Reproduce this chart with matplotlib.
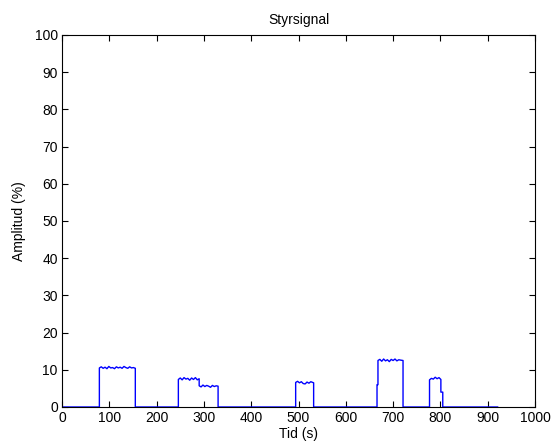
import matplotlib
matplotlib.use("Agg")
import matplotlib.pyplot as plt

# Time (s) and control signal amplitude (%)
time_s = [0, 79, 79, 83, 87, 91, 95, 99, 103, 107, 111, 115, 119, 123, 127, 131, 135, 139, 143, 147, 151, 155, 155,
          246, 246, 250, 254, 258, 262, 266, 270, 274, 278, 282, 286, 290, 290, 294, 298, 302, 306, 310, 314, 318, 322, 326, 330, 330,
          494, 494, 498, 502, 506, 510, 514, 518, 522, 526, 532, 532,
          666, 666, 668, 668, 672, 676, 680, 684, 688, 692, 696, 700, 704, 708, 712, 716, 721, 721,
          777, 777, 781, 785, 789, 793, 797, 801, 801, 805, 805, 921]
amplitude = [0, 0, 10.5, 10.8, 10.4, 10.7, 10.3, 10.9, 10.5, 10.6, 10.3, 10.8, 10.5, 10.7, 10.4, 10.9, 10.6, 10.4, 10.8, 10.5, 10.6, 10.4, 0,
             0, 7.4, 7.8, 7.3, 7.9, 7.5, 7.7, 7.2, 7.8, 7.4, 7.9, 7.3, 7.6, 5.7, 5.4, 5.9, 5.5, 5.8, 5.6, 5.3, 5.8, 5.5, 5.7, 5.6, 0,
             0, 6.6, 6.9, 6.5, 6.8, 6.3, 6.2, 6.7, 6.4, 6.8, 6.5, 0,
             0, 6.0, 6.0, 12.5, 12.8, 12.3, 12.9, 12.4, 12.7, 12.2, 12.8, 12.5, 12.9, 12.4, 12.7, 12.6, 12.5, 0,
             0, 7.3, 7.7, 7.5, 8.0, 7.6, 7.9, 7.4, 4.0, 4.0, 0, 0]

x_ticks = [0, 100, 200, 300, 400, 500, 600, 700, 800, 900, 1000]
y_ticks = [0, 10, 20, 30, 40, 50, 60, 70, 80, 90, 100]

plt.rcParams['font.family'] = ['Liberation Sans', 'DejaVu Sans']
fig = plt.figure(figsize=(5.51, 4.45), dpi=100)
ax = fig.add_axes([62/551, 1 - 407/445, (535-62)/551, (407-35)/445])
ax.plot(time_s, amplitude, color=(0, 0, 1), linewidth=1.0)
ax.set_xlim(0, 1000)
ax.set_ylim(0, 100)
ax.set_xticks(x_ticks)
ax.set_yticks(y_ticks)
ax.tick_params(direction='in', length=4, width=0.8, top=True, right=True, labelsize=10, pad=3, colors='black')
for s in ax.spines.values():
    s.set_linewidth(0.8)
ax.set_title("Styrsignal", fontsize=10, pad=8)
ax.set_xlabel("Tid (s)", fontsize=10, labelpad=1)
ax.set_ylabel("Amplitud (%)", fontsize=10, labelpad=6)
fig.savefig("out.png", dpi=100)
